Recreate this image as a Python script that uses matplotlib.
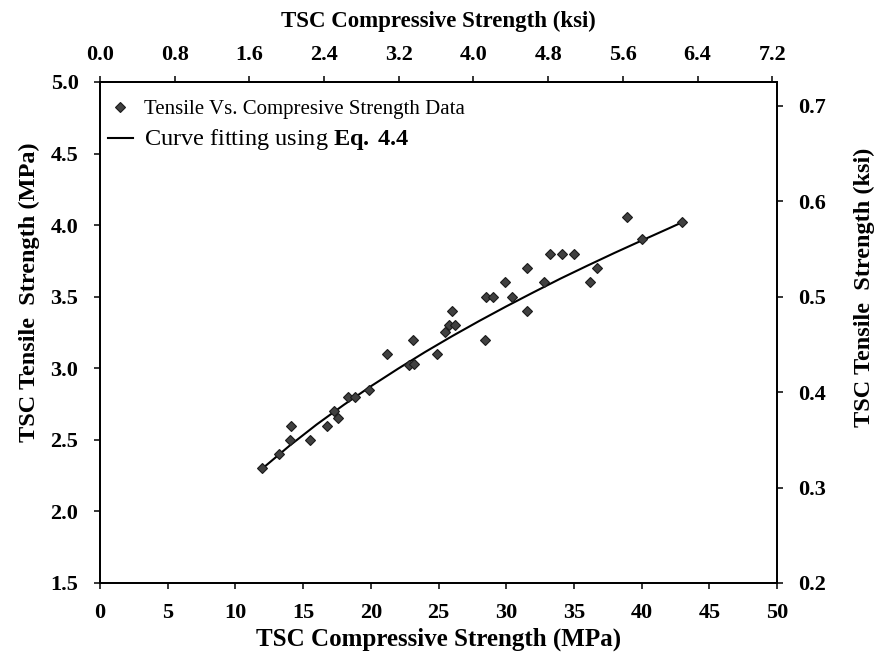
import matplotlib
matplotlib.use("Agg")
import matplotlib.pyplot as plt
from matplotlib.lines import Line2D

plt.rcParams['font.family'] = ['Liberation Serif', 'DejaVu Serif']
plt.rcParams['mathtext.fontset'] = 'custom'
plt.rcParams['mathtext.rm'] = 'Liberation Serif'
plt.rcParams['mathtext.bf'] = 'Liberation Serif:bold'

# Data points: compressive (MPa), tensile (MPa)
comp_mpa = [12.0, 13.2, 14.0, 14.1, 15.5, 16.8, 17.3, 17.6, 18.3, 18.8, 19.9,
            21.2, 22.8, 23.2, 23.1, 24.9, 25.5, 25.8, 26.0, 26.2, 28.4, 28.5,
            29.0, 29.9, 30.4, 31.5, 31.5, 32.8, 33.2, 34.1, 35.0, 36.2, 36.7,
            38.9, 40.0, 43.0]
tens_mpa = [2.30, 2.40, 2.50, 2.60, 2.50, 2.60, 2.70, 2.65, 2.80, 2.80, 2.85,
            3.10, 3.02, 3.03, 3.20, 3.10, 3.25, 3.30, 3.40, 3.30, 3.20, 3.50,
            3.50, 3.60, 3.50, 3.70, 3.40, 3.60, 3.80, 3.80, 3.80, 3.60, 3.70,
            4.06, 3.90, 4.02]

# Fitted curve (Eq. 4.4)
curve_x = [12, 14, 16, 18, 20, 22, 24, 26, 28, 30, 32, 34, 36, 38, 40, 42, 43]
curve_y = [2.30, 2.459, 2.607, 2.744, 2.874, 2.996, 3.113, 3.224, 3.330, 3.432,
           3.530, 3.626, 3.717, 3.806, 3.892, 3.977, 4.02]

x_ticks = [0, 5, 10, 15, 20, 25, 30, 35, 40, 45, 50]
y_ticks = [1.5, 2.0, 2.5, 3.0, 3.5, 4.0, 4.5, 5.0]
top_ticks = [0.0, 0.8, 1.6, 2.4, 3.2, 4.0, 4.8, 5.6, 6.4, 7.2]
right_ticks = [0.2, 0.3, 0.4, 0.5, 0.6, 0.7]
MPA_PER_KSI = 6.895

fig = plt.figure(figsize=(8.8, 6.6), dpi=100)
ax = fig.add_axes([0.1136, 0.1167, 0.7694, 0.7591])

ax.plot(curve_x, curve_y, color='black', lw=1.5, zorder=2)
ax.plot(comp_mpa, tens_mpa, linestyle='none', marker='D', ms=5.2,
        mfc='#404040', mec='#1a1a1a', mew=0.8, zorder=3)

ax.set_xlim(0, 50)
ax.set_ylim(1.5, 5.0)
ax.set_xticks(x_ticks)
ax.set_xticklabels([f"{v:d}" for v in x_ticks])
ax.set_yticks(y_ticks)
ax.set_yticklabels([f"{v:.1f}" for v in y_ticks])

tick_fs = 16
ax.tick_params(direction='out', length=4.5, width=1.1, labelsize=tick_fs)
ax.tick_params(axis='x', pad=10)
ax.tick_params(axis='y', pad=11)
for lab in ax.get_xticklabels() + ax.get_yticklabels():
    lab.set_fontweight('bold')
for sp in ax.spines.values():
    sp.set_linewidth(1.3)

ax.set_xlabel('TSC Compressive Strength (MPa)', fontsize=18, fontweight='bold', labelpad=3)
ax.set_ylabel('TSC Tensile  Strength (MPa)', fontsize=17.5, fontweight='bold')
ax.yaxis.set_label_coords(-0.089, 0.58)

# top axis (ksi)
top = ax.secondary_xaxis('top', functions=(lambda x: x / MPA_PER_KSI, lambda k: k * MPA_PER_KSI))
top.set_xticks(top_ticks)
top.set_xticklabels([f"{v:.1f}" for v in top_ticks])
top.tick_params(direction='out', length=4.5, width=1.1, labelsize=tick_fs, pad=8)
for lab in top.get_xticklabels():
    lab.set_fontweight('bold')
top.set_xlabel('TSC Compressive Strength (ksi)', fontsize=16.5, fontweight='bold', labelpad=13)
top.spines['top'].set_linewidth(1.3)

# right axis (ksi)
rax = ax.twinx()
rax.set_ylim(0.2, 0.725)
rax.set_yticks(right_ticks)
rax.set_yticklabels([f"{v:.1f}" for v in right_ticks])
rax.tick_params(direction='out', length=4.5, width=1.1, labelsize=tick_fs, pad=11)
for lab in rax.get_yticklabels():
    lab.set_fontweight('bold')
for sp in rax.spines.values():
    sp.set_linewidth(1.3)
rax.set_ylabel('TSC Tensile  Strength (ksi)', fontsize=17.5, fontweight='bold')
rax.yaxis.set_label_coords(1.114, 0.59)

handles = [Line2D([], [], linestyle='none', marker='D', ms=5.2, mfc='#404040', mec='#1a1a1a', mew=0.8),
           Line2D([], [], color='black', lw=1.5)]
labels = ['Tensile Vs. Compresive Strength Data',
          r'Curve fitting using $\mathbf{Eq.{}\,4.4}$']
leg = ax.legend(handles, labels, loc='upper left', bbox_to_anchor=(0.0118, 0.965),
                frameon=False, handlelength=1.2, handletextpad=0.55, borderaxespad=0,
                borderpad=0, labelspacing=0.4, fontsize=15)
leg.get_texts()[1].set_fontsize(17.5)

fig.savefig('out.png', dpi=100)
